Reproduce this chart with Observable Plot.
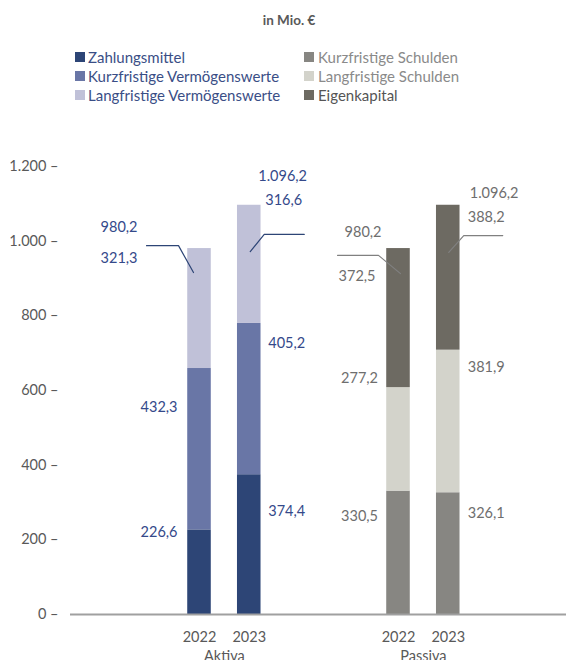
<!DOCTYPE html>
<html>
<head>
<meta charset="utf-8">
<script src="https://cdn.jsdelivr.net/npm/d3@7"></script>
<script src="https://cdn.jsdelivr.net/npm/@observablehq/plot@0.6"></script>
<style>
  html, body { margin: 0; padding: 0; overflow: hidden; background: #fff; }
  #wrap { position: relative; width: 566px; height: 660px; font-family: Lato, "Open Sans", sans-serif; }
  #title { position: absolute; left: 0; width: 578px; top: 10px; line-height: 20px; text-align: center;
           font-weight: bold; font-size: 13.5px; color: #595959; }
  .leg { position: absolute; font-size: 15px; line-height: 20px; white-space: nowrap; }
  .sw { position: absolute; width: 10px; height: 10px; }
  #chart { position: absolute; left: 0; top: 110px; }
</style>
</head>
<body>
<div id="wrap">
  <div id="title">in Mio. €</div>
  <div id="legend"></div>
  <div id="chart"></div>
</div>
<script>
// ---------- data ----------
const groups = ["Aktiva", "Passiva"];
const years = ["2022", "2023"];
const aktivaSeries = ["Zahlungsmittel", "Kurzfristige Vermögenswerte", "Langfristige Vermögenswerte"];
const passivaSeries = ["Kurzfristige Schulden", "Langfristige Schulden", "Eigenkapital"];
const aktiva2022 = [226.6, 432.3, 321.3];
const aktiva2023 = [374.4, 405.2, 316.6];
const passiva2022 = [330.5, 277.2, 372.5];
const passiva2023 = [326.1, 381.9, 388.2];
const yTicks = [0, 200, 400, 600, 800, 1000, 1200];

// ---------- styles ----------
const aktivaColors = ["#2d4576", "#6976a6", "#c0c1d8"];
const passivaColors = ["#878682", "#d3d3cb", "#6d6a62"];
const aktivaLegendText = ["#3a4e86", "#3a4e86", "#3a4e86"];
const passivaLegendText = ["#8a8a8a", "#8a8a8a", "#555555"];
const aktivaLabelColor = "#34498a";
const passivaLabelColor = "#6e6e6e";
const aktivaLeaderColor = "#2d4576";
const passivaLeaderColor = "#808080";

// ---------- layout (label placement, px offsets from bar centre / value-axis heights) ----------
const labelHeights = [
  [220, 556, 954, 1037],
  [277, 726, 1109, 1173],
  [263, 632, 905, 1024],
  [271, 662, 1064, 1127]
];
const labelDx = [
  {seg: -22, top: -62, total: -62, anchor: "end"},
  {seg: 19, top: 16, total: 9, anchor: "start"},
  {seg: -20.5, top: -23, total: -17, anchor: "end"},
  {seg: 19.5, top: 19.5, total: 21.5, anchor: "start"}
];
const leaders = [
  [[-53, 988], [-21, 988], [-6, 916]],
  [[1, 972], [15, 1018], [55, 1018]],
  [[-61, 962], [-20, 962], [2, 913]],
  [[0.5, 970], [15.5, 1015], [54.5, 1015]]
];

// ---------- legend ----------
const legend = document.getElementById("legend");
const rows = [57, 76, 95];
function addLegend(names, colors, textColors, swLeft, textLeft) {
  names.forEach((n, i) => {
    const sw = document.createElement("div");
    sw.className = "sw";
    sw.style.left = swLeft + "px";
    sw.style.top = (rows[i] - 5) + "px";
    sw.style.background = colors[i];
    legend.appendChild(sw);
    const t = document.createElement("div");
    t.className = "leg";
    t.style.left = textLeft + "px";
    t.style.top = (rows[i] - 10) + "px";
    t.style.color = textColors[i];
    t.textContent = n;
    legend.appendChild(t);
  });
}
addLegend(aktivaSeries, aktivaColors, aktivaLegendText, 75, 88);
addLegend(passivaSeries, passivaColors, passivaLegendText, 304, 318);

// ---------- build chart data ----------
const de = d3.formatLocale({decimal: ",", thousands: ".", grouping: [3], currency: ["", " €"]});
const fmt1 = de.format(",.1f");
const fmt0 = de.format(",.0f");

const barDefs = [
  {group: groups[0], year: years[0], values: aktiva2022, series: aktivaSeries, colors: aktivaColors},
  {group: groups[0], year: years[1], values: aktiva2023, series: aktivaSeries, colors: aktivaColors},
  {group: groups[1], year: years[0], values: passiva2022, series: passivaSeries, colors: passivaColors},
  {group: groups[1], year: years[1], values: passiva2023, series: passivaSeries, colors: passivaColors}
];
barDefs.forEach(b => { b.p = groups.indexOf(b.group) * 4 + years.indexOf(b.year); });

const xDomain = [-2.593, 7.377];
const marginLeft = 70, width = 566;
const pxPerUnit = (width - marginLeft) / (xDomain[1] - xDomain[0]);

const segments = [];
const labels = [];
const leaderPts = [];
barDefs.forEach((b, bi) => {
  let acc = 0;
  const isAktiva = b.group === groups[0];
  const lc = isAktiva ? aktivaLabelColor : passivaLabelColor;
  b.values.forEach((v, i) => {
    segments.push({p: b.p, y1: acc, y2: acc + v, fill: b.colors[i], series: b.series[i]});
    acc += v;
    const dx = i < 2 ? labelDx[bi].seg : labelDx[bi].top;
    labels.push({x: b.p + dx / pxPerUnit, y: labelHeights[bi][i], text: fmt1(v), anchor: labelDx[bi].anchor, color: lc});
  });
  const total = Math.round(acc * 10) / 10;
  labels.push({x: b.p + labelDx[bi].total / pxPerUnit, y: labelHeights[bi][3], text: fmt1(total), anchor: labelDx[bi].anchor, color: lc});
  leaders[bi].forEach(([dx, y]) => leaderPts.push({x: b.p + dx / pxPerUnit, y, key: bi, color: isAktiva ? aktivaLeaderColor : passivaLeaderColor}));
});

const groupLabels = groups.map((g, gi) => ({p: gi * 4 + 0.5, text: g}));

const chart = Plot.plot({
  width,
  height: 560,
  marginLeft,
  marginRight: 0,
  marginTop: 56,
  marginBottom: 56,
  style: {fontFamily: "Lato, 'Open Sans', sans-serif", fontSize: "14.5px", background: "transparent"},
  x: {domain: xDomain, axis: null},
  y: {domain: [0, 1200], axis: null},
  marks: [
    Plot.axisY({ticks: yTicks, tickSize: 0, tickPadding: 12, tickFormat: d => fmt0(d) + " –",
                fontSize: 14.5, color: "#595959", label: null}),
    Plot.rect(segments, {x1: d => d.p - 0.5, x2: d => d.p + 0.5, y1: "y1", y2: "y2", fill: "fill",
                         insetLeft: 13.1, insetRight: 13.1}),
    Plot.ruleY([0], {stroke: "#a0a0a0", strokeWidth: 2}),
    Plot.line(leaderPts, {x: "x", y: "y", z: "key", stroke: "color", strokeWidth: 1.2, curve: "linear"}),
    Plot.text(labels.filter(d => d.anchor === "end"), {x: "x", y: "y", text: "text", fill: "color", textAnchor: "end", fontSize: 14.5}),
    Plot.text(labels.filter(d => d.anchor === "start"), {x: "x", y: "y", text: "text", fill: "color", textAnchor: "start", fontSize: 14.5}),
    Plot.text(barDefs, {x: "p", y: () => 0, text: "year", dy: 23, fill: "#595959", fontSize: 14.5}),
    Plot.text(groupLabels, {x: "p", y: () => 0, text: "text", dy: 42, fill: "#595959", fontSize: 14.5})
  ]
});
document.getElementById("chart").appendChild(chart);
</script>
</body>
</html>
